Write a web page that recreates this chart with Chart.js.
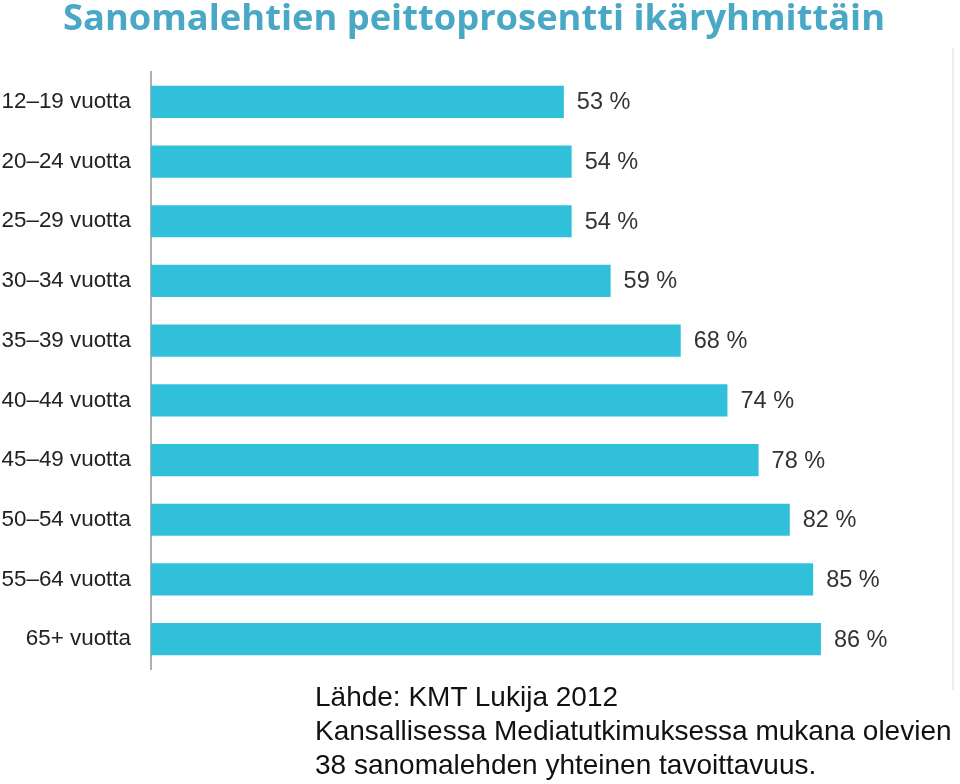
<!DOCTYPE html>
<html>
<head>
<meta charset="utf-8">
<script src="https://cdn.jsdelivr.net/npm/chart.js@4"></script>
<style>
  html, body { margin: 0; padding: 0; background: #fff; }
  #wrap { position: relative; width: 960px; height: 784px; overflow: hidden; }
  #c { position: absolute; left: 0; top: 0; }
  #title { position: absolute; left: 63px; top: -5px; white-space: nowrap;
           font-family: "Open Sans", Lato, sans-serif; font-weight: bold; font-size: 36px;
           line-height: 43px; color: #4aa8c7; transform-origin: 0 0; }
  #note { position: absolute; left: 315px; top: 680px; white-space: nowrap;
          font-family: "Liberation Sans", Arial, sans-serif; font-size: 28px; line-height: 34px; color: #111; }
  #edge { position: absolute; left: 952px; top: 48px; width: 2px; height: 642px; background: #ececec; }
</style>
</head>
<body>
<div id="wrap">
  <canvas id="c" width="960" height="784"></canvas>
  <div id="title">Sanomalehtien peittoprosentti ikäryhmittäin</div>
  <div id="note">Lähde: KMT Lukija 2012<br>Kansallisessa Mediatutkimuksessa mukana olevien<br>38 sanomalehden yhteinen tavoittavuus.</div>
  <div id="edge"></div>
</div>
<script>
const categories = ["12–19 vuotta", "20–24 vuotta", "25–29 vuotta", "30–34 vuotta", "35–39 vuotta",
                    "40–44 vuotta", "45–49 vuotta", "50–54 vuotta", "55–64 vuotta", "65+ vuotta"];
const coverage = [53, 54, 54, 59, 68, 74, 78, 82, 85, 86];
const valueSuffix = " %";

// fit title width to reference
(function(){
  const t = document.getElementById('title');
  const w = t.getBoundingClientRect().width;
  t.style.transform = 'scaleX(' + (822 / w) + ')';
})();

const valueLabels = {
  id: 'valueLabels',
  afterDatasetsDraw(chart) {
    const ctx = chart.ctx;
    const meta = chart.getDatasetMeta(0);
    ctx.save();
    ctx.font = '23.5px "Liberation Sans", Arial, sans-serif';
    ctx.fillStyle = '#333';
    ctx.textAlign = 'left';
    ctx.textBaseline = 'middle';
    meta.data.forEach((bar, i) => {
      ctx.fillText(coverage[i] + valueSuffix, bar.x + 13, bar.y + 1);
    });
    ctx.restore();
  }
};

new Chart(document.getElementById('c'), {
  type: 'bar',
  data: {
    labels: categories,
    datasets: [{
      data: coverage,
      backgroundColor: '#31c0da',
      borderWidth: 0,
      barPercentage: 0.9,
      categoryPercentage: 0.6
    }]
  },
  options: {
    indexAxis: 'y',
    responsive: false,
    animation: false,
    events: [],
    layout: { padding: { top: 72, bottom: 115, right: 30, left: 0 } },
    plugins: { legend: { display: false }, tooltip: { enabled: false }, title: { display: false } },
    scales: {
      x: { min: 0, max: 100, display: false },
      y: {
        grid: { display: false, drawTicks: false },
        border: { display: true, color: '#b0b0b0', width: 2 },
        ticks: { color: '#222', padding: 20, font: { family: '"Liberation Sans", Arial, sans-serif', size: 22.4 } },
        afterFit(scale) { scale.width = 151; }
      }
    }
  },
  plugins: [valueLabels]
});
</script>
</body>
</html>
